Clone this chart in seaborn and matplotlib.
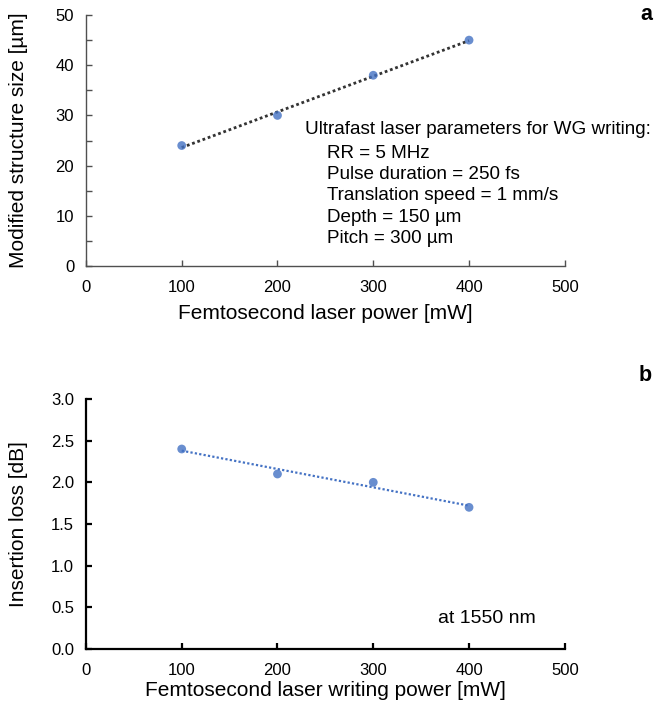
import matplotlib
matplotlib.use("Agg")
import matplotlib.pyplot as plt
import seaborn as sns
import pandas as pd
from matplotlib.ticker import MultipleLocator, FormatStrFormatter

power_mw = [100, 200, 300, 400]
structure_size_um = [24, 30, 38, 45]
insertion_loss_db = [2.4, 2.1, 2.0, 1.7]
param_lines = ["RR = 5 MHz", "Pulse duration = 250 fs", "Translation speed = 1 mm/s",
               "Depth = 150 µm", "Pitch = 300 µm"]

sns.set_theme(style="ticks")
plt.rcParams['font.family'] = ['Liberation Sans', 'DejaVu Sans']
plt.rcParams['text.color'] = 'black'
plt.rcParams['axes.labelcolor'] = 'black'
plt.rcParams['xtick.color'] = 'black'
plt.rcParams['ytick.color'] = 'black'

df_a = pd.DataFrame({"power": power_mw, "size": structure_size_um})
df_b = pd.DataFrame({"power": power_mw, "loss": insertion_loss_db})

blue = "#4472C4"
fig = plt.figure(figsize=(6.56, 7.12), dpi=100)
ax1 = fig.add_axes([0.131, 0.6264, 0.730, 0.3525])
ax2 = fig.add_axes([0.131, 0.0885, 0.730, 0.3511])

sns.regplot(data=df_a, x="power", y="size", ax=ax1, ci=None, truncate=True,
            scatter_kws=dict(color=blue, s=40, edgecolor="none", zorder=3),
            line_kws=dict(color="#333333", lw=2, ls=(0, (1, 1)), zorder=2))
sns.regplot(data=df_b, x="power", y="loss", ax=ax2, ci=None, truncate=True,
            scatter_kws=dict(color=blue, s=40, edgecolor="none", zorder=3),
            line_kws=dict(color=blue, lw=1.6, ls=(0, (1, 1)), zorder=2))

for ax in (ax1, ax2):
    ax.set_xlim(0, 500)
    ax.xaxis.set_major_locator(MultipleLocator(100))
    for s in ("top", "right"):
        ax.spines[s].set_visible(False)
    ax.tick_params(direction="in", labelsize=12, length=4)
    ax.tick_params(axis="x", pad=10)
    ax.tick_params(axis="y", pad=8.5)
    ax.tick_params(which="minor", direction="in", length=4)

ax1.set_ylim(0, 50)
ax1.yaxis.set_major_locator(MultipleLocator(10))
ax1.yaxis.set_minor_locator(MultipleLocator(5))
for s in ("left", "bottom"):
    ax1.spines[s].set_color("#505050")
    ax1.spines[s].set_linewidth(1.0)
ax1.tick_params(color="#505050", width=1.0)
ax1.tick_params(which="minor", color="#505050", width=1.0)

ax2.set_ylim(0, 3.0)
ax2.yaxis.set_major_locator(MultipleLocator(0.5))
ax2.yaxis.set_major_formatter(FormatStrFormatter("%.1f"))
for s in ("left", "bottom"):
    ax2.spines[s].set_color("black")
    ax2.spines[s].set_linewidth(1.6)
ax2.tick_params(color="black", width=1.6)

ax1.set_xlabel("Femtosecond laser power [mW]", fontsize=15)
ax1.set_ylabel("Modified structure size [µm]", fontsize=15)
ax2.set_xlabel("Femtosecond laser writing power [mW]", fontsize=15)
ax2.set_ylabel("Insertion loss [dB]", fontsize=15)
ax1.xaxis.set_label_coords(0.5, -0.151)
ax2.xaxis.set_label_coords(0.5, -0.128)
ax1.yaxis.set_label_coords(-0.121, 0.5)
ax2.yaxis.set_label_coords(-0.121, 0.5)

ax1.text(0.457, 0.542, "Ultrafast laser parameters for WG writing:", transform=ax1.transAxes,
         fontsize=13.6, ha="left", va="center")
for i, line in enumerate(param_lines):
    ax1.text(0.503, 0.450 - i * 0.0853, line, transform=ax1.transAxes,
             fontsize=13.6, ha="left", va="center")

ax2.text(0.736, 0.12, "at 1550 nm", transform=ax2.transAxes, fontsize=14,
         ha="left", va="center")

fig.text(0.994, 0.979, "a", fontsize=15.5, fontweight="bold", ha="right", va="center")
fig.text(0.994, 0.473, "b", fontsize=15.5, fontweight="bold", ha="right", va="center")

fig.savefig("out.png", dpi=100)
